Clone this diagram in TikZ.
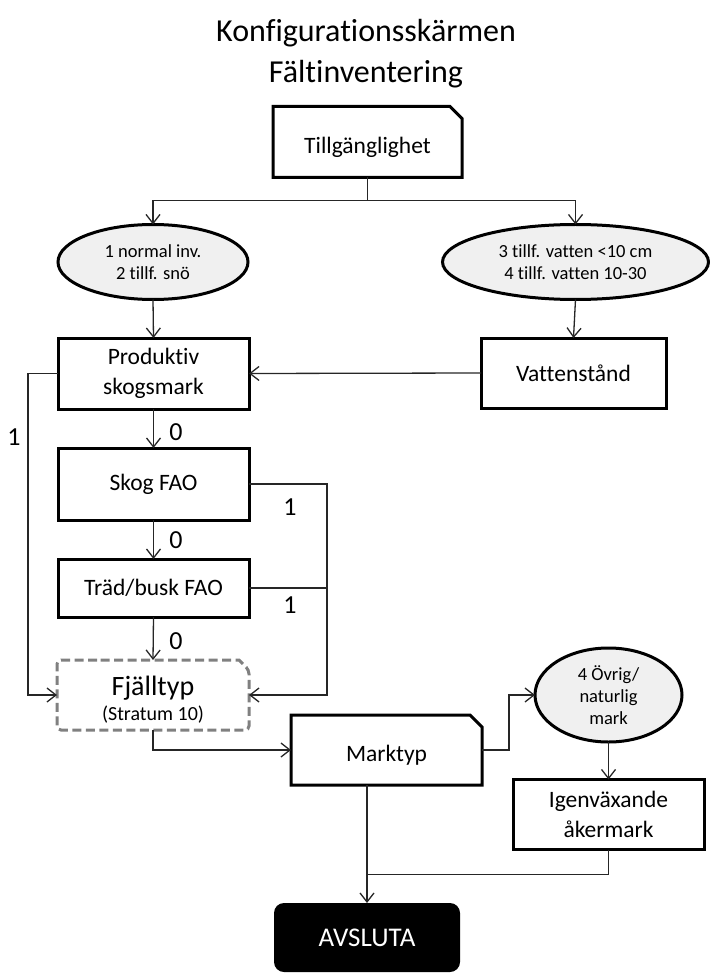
\documentclass[tikz,border=0pt]{standalone}
\usepackage{fontspec}
\setmainfont{Carlito}[Ligatures=NoCommon]
\usetikzlibrary{arrows.meta,shapes.geometric,calc}

\definecolor{ovalfill}{HTML}{F0F0F0}
\definecolor{dashgray}{HTML}{808080}

\tikzset{
  conn/.style={line width=1.3pt, draw=black!85},
  arr/.style={conn, -{Straight Barb[length=9pt,width=14pt,line width=1.3pt]}},
  boxtext/.style={font=\fontsize{23.5}{30}\selectfont, align=center},
  stepbox/.style={rectangle, draw, line width=3pt, inner sep=0pt, outer sep=0pt, boxtext},
  cutbox/.style={rectangle, draw=none, inner sep=0pt, outer sep=0pt},
  cutlabel/.style={inner sep=0pt, boxtext},
  oval/.style={ellipse, draw, line width=3pt, fill=ovalfill, inner sep=0pt, outer sep=0pt,
    font=\fontsize{18.5}{22}\selectfont, align=center},
  branch/.style={font=\fontsize{26}{30}\selectfont, inner sep=0pt},
  titletext/.style={font=\fontsize{32}{36}\selectfont, anchor=base}
}

\begin{document}
\begin{tikzpicture}[x=1pt,y=-1pt]
\useasboundingbox (0,0) rectangle (709,973);

% heading
\node[titletext] (head1) at (366,42) {Konfigurationsskärmen};
\node[titletext] (head2) at (366,83) {Fältinventering};

% start box with a cut corner
\node[cutbox, minimum width=189pt, minimum height=71pt] (T) at (367.5,142) {};
\node[cutlabel] (Ttext) at ($(T.center)+(0,5)$) {Tillgänglighet};
\draw[line width=3pt, line join=miter]
  (T.south west) -- (T.north west) -- ([xshift=-12pt]T.north east)
  -- ([yshift=-12pt]T.north east) -- (T.south east) -- cycle;

% first choices
\node[oval, minimum width=190pt, minimum height=75pt] (E1) at (153,262)
  {1 normal inv.\\2 tillf. snö};
\node[oval, minimum width=266pt, minimum height=75pt] (E2) at (575.5,262)
  {3 tillf. vatten <10 cm\\4 tillf. vatten 10-30};

% main column
\node[stepbox, minimum width=191pt, minimum height=71pt] (P) at (153.5,373.5)
  {Produktiv\\skogsmark};
\node[stepbox, minimum width=185pt, minimum height=70pt] (V) at (573.5,373)
  {Vattenstånd};
\node[stepbox, minimum width=191pt, minimum height=72pt] (S) at (153.5,484)
  {Skog FAO};
\node[stepbox, minimum width=191pt, minimum height=58pt] (B) at (153.5,588)
  {Träd/busk FAO};

% dashed mountain-type box
\node[cutbox, minimum width=192pt, minimum height=70pt] (F) at (153,695) {};
\node[inner sep=0pt, anchor=base, font=\fontsize{28}{30}\selectfont] (Ftitle) at (153,695) {Fjälltyp};
\node[inner sep=0pt, anchor=base, font=\fontsize{20}{24}\selectfont] (Fsub) at (153,720) {(Stratum 10)};
\draw[line width=3pt, draw=dashgray, dash pattern=on 9pt off 4.5pt, rounded corners=4pt]
  ([xshift=40pt]F.north west) -- (F.north west) -- (F.south west) -- (F.south east)
  -- ([yshift=-10pt]F.north east) [sharp corners] -- ([xshift=-10pt]F.north east) -- cycle;

% land type box with a cut corner
\node[cutbox, minimum width=191pt, minimum height=70pt] (M) at (386.5,750) {};
\node[cutlabel] (Mtext) at ($(M.center)+(0,5)$) {Marktyp};
\draw[line width=3pt, line join=miter]
  (M.south west) -- (M.north west) -- ([xshift=-12pt]M.north east)
  -- ([yshift=-12pt]M.north east) -- (M.south east) -- cycle;

\node[oval, minimum width=147pt, minimum height=94pt] (E3) at (608.5,695)
  {4 Övrig/\\naturlig\\mark};
\node[stepbox, minimum width=191pt, minimum height=70pt] (I) at (608.5,814.5)
  {Igenväxande\\åkermark};

% end
\node[rectangle, fill=black, rounded corners=10pt, minimum width=186pt, minimum height=69pt,
  inner sep=0pt, outer sep=0pt, text=white, font=\fontsize{27}{30}\selectfont] (A) at (367,937.5) {AVSLUTA};

% connectors
\draw[conn] (T.south) -- ++(0,23) coordinate (split);
\draw[arr] (split) -| (E1.north);
\draw[arr] (split) -| (E2.north);
\draw[arr] (E1.south) -- (P.north);
\draw[arr] (E2.south) -- (V.north);
\draw[arr] (V.west) -- (P.east);

\draw[arr] (P.south) -- (S.north);
\draw[arr] (S.south) -- (B.north);
\draw[arr] (B.south) -- (F.north);
\node[branch] (z1) at (176,432) {0};
\node[branch] (z2) at (176,540) {0};
\node[branch] (z3) at (176,641) {0};

\draw[arr] (P.west) -- (28,373.5) |- (F.west);
\node[branch] (o1) at (14,437) {1};

\draw[arr] (S.east) -- (327,484) |- (F.east);
\draw[conn] (B.east) -- (327,588);
\node[branch] (o2) at (290,507) {1};
\node[branch] (o3) at (290,605) {1};

\draw[arr] (F.south) |- (M.west);
\draw[arr] (M.east) -- (509,750) |- (E3.west);
\draw[arr] (E3.south) -- (I.north);

\draw[arr] (M.south -| A.north) -- (A.north);
\draw[conn] (I.south) -- ++(0,25) coordinate (join) -- (join -| A.north);
\end{tikzpicture}
\end{document}
